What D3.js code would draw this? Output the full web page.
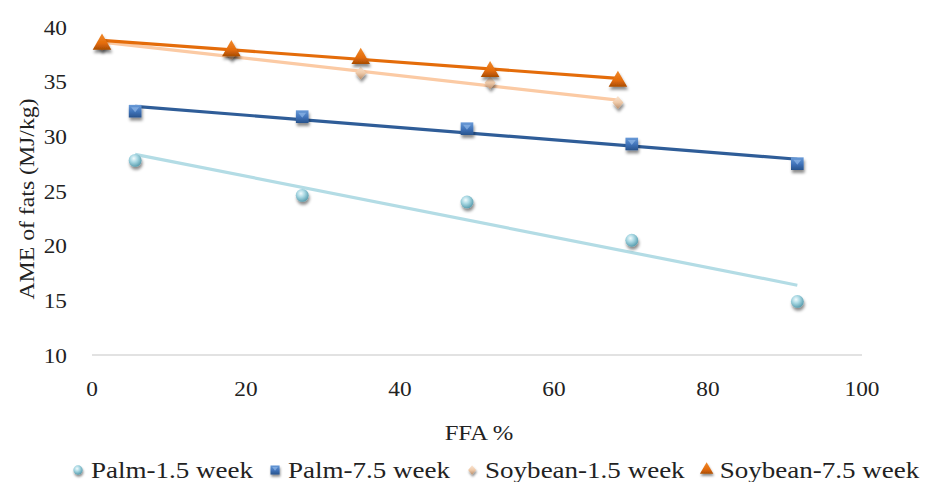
<!DOCTYPE html>
<html>
<head>
<meta charset="utf-8">
<script src="https://cdn.jsdelivr.net/npm/d3@7"></script>
<style>
  body { margin: 0; background: #fff; }
  text { font-family: "Liberation Serif", "DejaVu Serif", serif; fill: #222; }
</style>
</head>
<body>
<div id="chart"></div>
<script>
// 数据
const seriesNames = ["Palm-1.5 week", "Palm-7.5 week", "Soybean-1.5 week", "Soybean-7.5 week"];
const palmFFA = [5.6, 27.3, 48.7, 70.1, 91.6];
const soyFFA = [1.3, 18.1, 34.9, 51.7, 68.3];
const palm15 = [27.8, 24.6, 24.0, 20.5, 14.9];
const palm75 = [32.3, 31.8, 30.7, 29.3, 27.5];
const soy15 = [38.4, 37.6, 35.8, 34.9, 33.1];
const soy75 = [38.6, 38.0, 37.3, 36.1, 35.2];
const xTicks = [0, 20, 40, 60, 80, 100];
const yTicks = [10, 15, 20, 25, 30, 35, 40];

const width = 928, height = 482;
const margin = { top: 27, right: 66, bottom: 127, left: 92 };

const series = [
  { name: seriesNames[0], xs: palmFFA, ys: palm15, line: "#b3dce5", sym: "circle" },
  { name: seriesNames[1], xs: palmFFA, ys: palm75, line: "#2f5d98", sym: "square" },
  { name: seriesNames[2], xs: soyFFA, ys: soy15, line: "#fbcaa4", sym: "diamond" },
  { name: seriesNames[3], xs: soyFFA, ys: soy75, line: "#e46c0a", sym: "triangle" }
];

const svg = d3.select("#chart").append("svg")
  .attr("width", width).attr("height", height);

const defs = svg.append("defs");
//阴影
defs.append("filter").attr("id", "shadow")
  .attr("x", "-60%").attr("y", "-60%").attr("width", "220%").attr("height", "220%")
  .append("feDropShadow")
  .attr("dx", 1).attr("dy", 3).attr("stdDeviation", 1.8)
  .attr("flood-color", "#000").attr("flood-opacity", 0.45);

function radial(id, stops) {
  const g = defs.append("radialGradient").attr("id", id)
    .attr("cx", "40%").attr("cy", "35%").attr("r", "65%");
  stops.forEach(s => g.append("stop").attr("offset", s[0]).attr("stop-color", s[1]));
}
function linear(id, stops) {
  const g = defs.append("linearGradient").attr("id", id)
    .attr("x1", 0).attr("y1", 0).attr("x2", 0).attr("y2", 1);
  stops.forEach(s => g.append("stop").attr("offset", s[0]).attr("stop-color", s[1]));
}
radial("g-circle", [["0%", "#f2fbfd"], ["45%", "#a9d8e3"], ["100%", "#5b9fb0"]]);
linear("g-square", [["0%", "#6a9bd8"], ["55%", "#3f72b8"], ["100%", "#28538c"]]);
linear("g-diamond", [["0%", "#fbe6d4"], ["50%", "#efcaa9"], ["100%", "#b98e6c"]]);
linear("g-triangle", [["0%", "#f08a2e"], ["60%", "#e46c0a"], ["100%", "#a84c05"]]);

//菱形（比d3自带的宽一些）
const wideDiamond = {
  draw(ctx, size) {
    const h = Math.sqrt(size) * 0.62, w = h * 0.85;
    ctx.moveTo(0, -h); ctx.lineTo(w, 0); ctx.lineTo(0, h); ctx.lineTo(-w, 0); ctx.closePath();
  }
};
const symbolType = {
  circle: d3.symbolCircle, square: d3.symbolSquare,
  diamond: wideDiamond, triangle: d3.symbolTriangle
};
const symbolSize = { circle: 130, square: 160, diamond: 110, triangle: 150 };

const x = d3.scaleLinear().domain([0, 100]).range([margin.left, width - margin.right]);
const y = d3.scaleLinear().domain([10, 40]).range([height - margin.bottom, margin.top]);

//坐标轴
svg.append("line")
  .attr("x1", x(0)).attr("x2", x(100))
  .attr("y1", y(10)).attr("y2", y(10))
  .attr("stroke", "#d9d9d9").attr("stroke-width", 1.5);

svg.append("g").selectAll("text").data(xTicks).enter().append("text")
  .attr("transform", d => `translate(${x(d)},${y(10) + 41}) scale(1.06,1)`)
  .attr("text-anchor", "middle").style("font-size", "22px")
  .text(d => d);

svg.append("g").selectAll("text").data(yTicks).enter().append("text")
  .attr("transform", d => `translate(67,${y(d) + 7.5}) scale(1.06,1)`)
  .attr("text-anchor", "end").style("font-size", "22px")
  .text(d => d);

svg.append("text")
  .attr("transform", `translate(${(x(0) + x(100)) / 2 + 2},440) scale(1.12,1)`)
  .attr("text-anchor", "middle").style("font-size", "22px")
  .text("FFA %");

svg.append("text")
  .attr("transform", `translate(34,${(y(10) + y(40)) / 2 + 8}) rotate(-90) scale(1.08,1)`)
  .attr("text-anchor", "middle").style("font-size", "22px")
  .text("AME of fats (MJ/kg)");

//线性趋势线
function fit(xs, ys) {
  const mx = d3.mean(xs), my = d3.mean(ys);
  const b = d3.sum(xs, (v, i) => (v - mx) * (ys[i] - my)) / d3.sum(xs, v => (v - mx) * (v - mx));
  return v => my + b * (v - mx);
}
series.forEach(s => {
  const f = fit(s.xs, s.ys);
  const x0 = d3.min(s.xs), x1 = d3.max(s.xs);
  svg.append("line")
    .attr("x1", x(x0)).attr("y1", y(f(x0)))
    .attr("x2", x(x1)).attr("y2", y(f(x1)))
    .attr("stroke", s.line).attr("stroke-width", 3.2);
});

//数据点
function drawSymbol(g, sym) {
  g.append("path")
    .attr("d", d3.symbol().type(symbolType[sym]).size(symbolSize[sym])())
    .attr("fill", `url(#g-${sym})`)
    .attr("filter", "url(#shadow)");
  if (sym === "square") {
    g.append("path").attr("d", "M-4,-4L4,-4L0,1Z").attr("fill", "#8fb6e8").attr("opacity", 0.7);
  }
}
series.forEach(s => {
  const pts = svg.append("g").selectAll("g")
    .data(s.xs.map((v, i) => [v, s.ys[i]]))
    .enter().append("g")
    .attr("transform", d => `translate(${x(d[0])},${y(d[1]) + (s.sym === "triangle" ? 2 : 0)})`);
  pts.each(function () { drawSymbol(d3.select(this), s.sym); });
});

//图例
const legend = svg.append("g").attr("transform", "translate(0,470)");
const stretch = 1.15;
let lx = 78;
series.forEach(s => {
  const item = legend.append("g").attr("transform", `translate(${lx},0)`);
  const sg = item.append("g").attr("transform", "scale(0.72)");
  drawSymbol(sg, s.sym);
  const t = item.append("text").attr("transform", `translate(13,7.5) scale(${stretch},1)`)
    .style("font-size", "23.5px").text(s.name);
  lx += 13 + t.node().getComputedTextLength() * stretch + 22;
});
</script>
</body>
</html>
